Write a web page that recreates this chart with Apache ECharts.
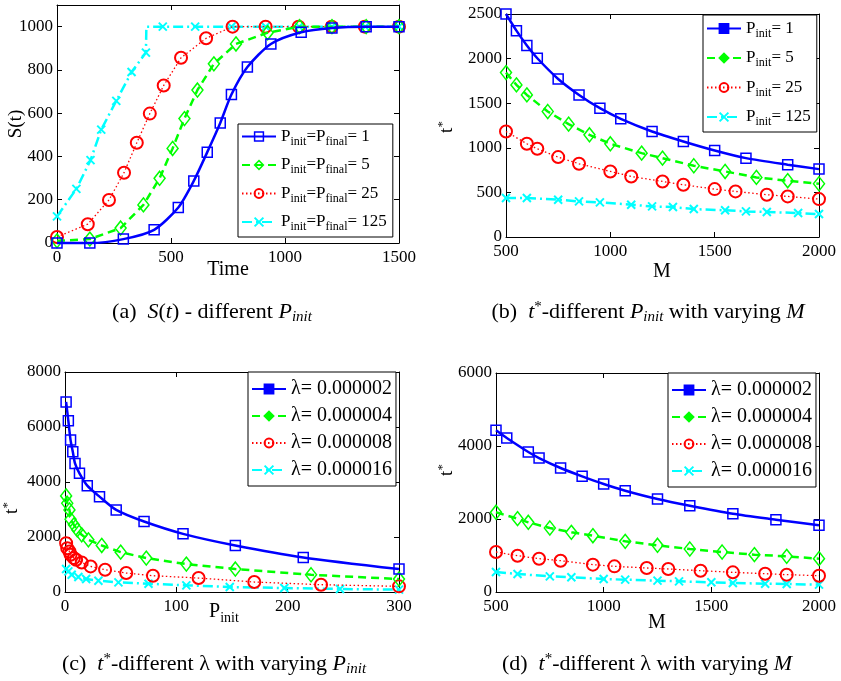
<!DOCTYPE html>
<html>
<head>
<meta charset="utf-8">
<script src="https://cdn.jsdelivr.net/npm/echarts@6/dist/echarts.min.js"></script>
<style>html,body{margin:0;padding:0;background:#fff}#c{width:841px;height:681px}</style>
</head>
<body>
<div id="c"></div>
<script>
// ---------- Panel (a): S(t) vs Time ----------
const aTime1 = [0,144,291,426,532,600,659,716,765,835,938,1071,1206,1356,1500];
const aS1    = [0,0,18,61,164,287,420,555,686,813,920,974,994,1000,1000];
const aTime5 = [0,144,279,379,450,507,559,616,688,785,924,1064,1206,1356,1500];
const aS5    = [10,18,69,176,299,437,575,707,828,920,972,1000,1000,1000,1000];
const aTime25 = [0,135,228,294,350,407,468,544,654,770,915,1060,1205,1350,1500];
const aS25    = [28,87,199,325,463,598,728,856,946,1000,1000,1000,1000,1000,1000];
const aTime125 = [0,85,147,194,260,327,390,392,464,606,765,915,1062,1206,1352,1500];
const aS125    = [123,250,383,524,657,790,880,1000,1000,1000,1000,1000,1000,1000,1000,1000];
const aNoMarkerIdx125 = [7];
const aLegend = ['P{sub|init}=P{sub|final}= 1','P{sub|init}=P{sub|final}= 5','P{sub|init}=P{sub|final}= 25','P{sub|init}=P{sub|final}= 125'];

// ---------- Panel (b): t* vs M, different P_init ----------
const bM1 = [500,550,600,650,750,850,950,1050,1200,1350,1500,1650,1850,2000];
const bT1 = [2500,2313,2146,2004,1772,1593,1444,1325,1183,1071,970,884,810,761];
const bM5 = [500,550,600,700,800,900,1000,1150,1250,1400,1550,1700,1850,2000];
const bT5 = [1843,1705,1593,1407,1265,1146,1045,940,884,799,735,668,631,597];
const bM25 = [500,600,650,750,850,1000,1100,1250,1350,1500,1600,1750,1850,2000];
const bT25 = [1183,1045,989,896,821,735,679,623,586,537,511,474,455,425];
const bM125 = [500,600,750,850,950,1100,1200,1300,1400,1550,1650,1750,1900,2000];
const bT125 = [437,437,418,399,388,362,343,336,313,299,287,280,269,257];
const bLegend = ['P{sub|init}= 1','P{sub|init}= 5','P{sub|init}= 25','P{sub|init}= 125'];

// ---------- Panel (c): t* vs P_init, different lambda ----------
const cP1 = [1,3,5,7,9,13,20,31,46,71,106,153,214,300];
const cT1 = [6912,6224,5523,5100,4677,4314,3867,3468,2985,2562,2115,1692,1257,834];
const cP2 = [1,2,4,5,8,11,15,21,33,50,73,109,153,221,300];
const cT2 = [3492,3227,2985,2646,2441,2260,2079,1897,1692,1450,1233,1015,834,628,471];
const cP3 = [1,2,4,5,8,10,15,23,36,55,79,120,170,230,300];
const cT3 = [1776,1595,1474,1353,1233,1172,1075,930,810,689,592,508,363,266,205];
const cP4 = [1,3,6,12,19,30,48,75,109,148,197,247,300];
const cT4 = [834,749,628,544,471,411,350,302,242,181,145,109,85];
const lamLegend = ['λ= 0.000002','λ= 0.000004','λ= 0.000008','λ= 0.000016'];

// ---------- Panel (d): t* vs M, different lambda ----------
const dM1 = [500,550,650,700,800,900,1000,1100,1250,1400,1600,1800,2000];
const dT1 = [4429,4219,3836,3671,3397,3169,2959,2776,2548,2365,2146,1982,1826];
const dM2 = [500,600,650,750,850,950,1100,1250,1400,1550,1700,1850,2000];
const dT2 = [2183,2009,1909,1753,1635,1543,1388,1279,1178,1096,1023,977,913];
const dM3 = [500,600,700,800,950,1050,1200,1300,1450,1600,1750,1850,2000];
const dT3 = [1096,995,913,858,749,703,658,630,584,539,502,475,447];
const dM4 = [500,600,750,850,1000,1100,1250,1350,1500,1600,1750,1850,2000];
const dT4 = [548,493,429,402,356,338,311,292,265,247,228,219,201];

// ---------- styles ----------
const FONT = '"Liberation Serif","DejaVu Serif",serif';
const CROSS = 'path://M0,0L10,10M10,0L0,10';
const ST = [
  {color:'#0000ff', line:'solid', lw:2.5, symbol:'rect', size:10, bw:1.5, smooth:0.25},
  {color:'#00ff00', line:[8,5], lw:2.5, symbol:'diamond', size:[11,14], bw:1.5, smooth:false},
  {color:'#ff0000', line:[1.5,2.5], lw:1.3, symbol:'circle', size:12, bw:2, smooth:false},
  {color:'#00ffff', line:[10,4,2,4], lw:2.5, symbol:CROSS, size:8, bw:2, smooth:false}
];

const grids = [
  {left:57, top:5, width:342, height:238},
  {left:506, top:14, width:313, height:223},
  {left:65, top:372, width:334, height:220},
  {left:496, top:373, width:323, height:219}
];
const xr = [[0,1500,500],[500,2000,500],[0,300,100],[500,2000,500]];
const yr = [[0,1100,200],[0,2500,500],[0,8000,2000],[0,6000,2000]];
const plain = v => String(v);

const xAxes = [], yAxes = [];
grids.forEach((g,i)=>{
  const base = {gridIndex:i, type:'value', min:xr[i][0], max:xr[i][1], interval:xr[i][2],
    axisLine:{show:true,onZero:false,lineStyle:{color:'#000',width:1}},
    axisTick:{show:true,inside:true,length:5,lineStyle:{color:'#000'}},
    splitLine:{show:false}};
  xAxes.push(Object.assign({}, base, {position:'bottom',
    axisLabel:{color:'#000',fontFamily:FONT,fontSize:17,margin:6,formatter:plain}}));
  xAxes.push(Object.assign({}, base, {position:'top', axisLabel:{show:false}}));
  const yb = {gridIndex:i, type:'value', min:yr[i][0], max:yr[i][1], interval:yr[i][2],
    axisLine:{show:true,onZero:false,lineStyle:{color:'#000',width:1}},
    axisTick:{show:true,inside:true,length:5,lineStyle:{color:'#000'}},
    splitLine:{show:false}};
  yAxes.push(Object.assign({}, yb, {position:'left',
    axisLabel:{color:'#000',fontFamily:FONT,fontSize:17,margin:4,showMaxLabel:i!==0,formatter:plain}}));
  yAxes.push(Object.assign({}, yb, {position:'right', axisLabel:{show:false}}));
});

const series = [];
function addSeries(panel, k, xs, ys, name, noMarker){
  const s = ST[k];
  const data = xs.map((x,j)=>{
    const item = {value:[x, ys[j]]};
    if (noMarker && noMarker.indexOf(j) >= 0) item.symbol = 'none';
    return item;
  });
  series.push({
    type:'line', name:name, xAxisIndex:panel*2, yAxisIndex:panel*2,
    data:data, smooth:s.smooth, symbol:s.symbol, symbolSize:s.size, showAllSymbol:true,
    clip:false,
    lineStyle:{color:s.color, width:s.lw, type:s.line},
    itemStyle:{color:'rgba(0,0,0,0)', borderColor:s.color, borderWidth:s.bw},
    emphasis:{disabled:true}, animation:false, z: 10-k
  });
}
addSeries(0,0,aTime1,aS1,'a0');
addSeries(0,1,aTime5,aS5,'a1');
addSeries(0,2,aTime25,aS25,'a2');
addSeries(0,3,aTime125,aS125,'a3',aNoMarkerIdx125);
addSeries(1,0,bM1,bT1,'b0');
addSeries(1,1,bM5,bT5,'b1');
addSeries(1,2,bM25,bT25,'b2');
addSeries(1,3,bM125,bT125,'b3');
addSeries(2,0,cP1,cT1,'c0');
addSeries(2,1,cP2,cT2,'c1');
addSeries(2,2,cP3,cT3,'c2');
addSeries(2,3,cP4,cT4,'c3');
addSeries(3,0,dM1,dT1,'d0');
addSeries(3,1,dM2,dT2,'d1');
addSeries(3,2,dM3,dT3,'d2');
addSeries(3,3,dM4,dT4,'d3');

const labelMap = {};
['a','b','c','d'].forEach((p,pi)=>{
  const arr = pi===0?aLegend:(pi===1?bLegend:lamLegend);
  arr.forEach((t,k)=>{ labelMap[p+k]=t; });
});

function makeLegend(p, pos, filled){
  return {
    left:pos.left, top:pos.top, orient:'vertical', itemGap:pos.gap,
    itemWidth:34, itemHeight:11,
    padding:pos.pad, borderColor:'#000', borderWidth:1, backgroundColor:'#fff',
    selectedMode:false,
    data:[0,1,2,3].map(k=>({name:p+k,
      itemStyle: filled && k<2 ? {color:ST[k].color, borderColor:ST[k].color}
                                : {color:'rgba(0,0,0,0)', borderColor:ST[k].color, borderWidth:ST[k].bw}})),
    formatter:(n)=>labelMap[n],
    textStyle:{color:'#000', fontFamily:FONT, fontSize:pos.fs,
      rich:{sub:{fontFamily:FONT, fontSize:12, padding:[10,0,0,0], color:'#000'}}}
  };
}

const legends = [
  makeLegend('a',{left:238,top:124,gap:9,pad:[4,6,4,3],fs:17},false),
  makeLegend('b',{left:703,top:15,gap:10,pad:[5,6,4,3],fs:17},true),
  makeLegend('c',{left:248,top:372,gap:7,pad:[7,4,6,3],fs:20},true),
  makeLegend('d',{left:668,top:373,gap:7,pad:[7,4,6,3],fs:20},true)
];

const richCap = {
  i:{fontFamily:FONT,fontSize:22,fontStyle:'italic',color:'#000'},
  isub:{fontFamily:FONT,fontSize:15,fontStyle:'italic',color:'#000',padding:[10,0,0,0]},
  sup:{fontFamily:FONT,fontSize:15,color:'#000',padding:[0,0,9,0]},
  sub:{fontFamily:FONT,fontSize:14,color:'#000',padding:[12,0,0,0]},
  asup:{fontFamily:FONT,fontSize:13,color:'#000',padding:[0,0,8,0]}
};
function txt(x,y,text){
  return {type:'text', x:x, y:y, silent:true,
    style:{text:text, fill:'#000', font:'22px '+FONT, textAlign:'center', textVerticalAlign:'middle', rich:richCap}};
}
function rtxt(x,y,text,size){
  return {type:'text', x:x, y:y, rotation:Math.PI/2, silent:true,
    style:{text:text, fill:'#000', font:size+'px '+FONT, textAlign:'center', textVerticalAlign:'middle', rich:richCap}};
}
function ntxt(x,y,text){
  return {type:'text', x:x, y:y, silent:true,
    style:{text:text, fill:'#000', font:'20px '+FONT, textAlign:'center', textVerticalAlign:'middle', rich:richCap}};
}
const graphics = [
  txt(212,312,'(a)  {i|S}({i|t}) - different {i|P}{isub|init}'),
  txt(648,312,'(b)  {i|t}{sup|*}-different {i|P}{isub|init} with varying {i|M}'),
  txt(214,664,'(c)  {i|t}{sup|*}-different λ with varying {i|P}{isub|init}'),
  txt(647,664,'(d)  {i|t}{sup|*}-different λ with varying {i|M}'),
  ntxt(228,270,'Time'),
  ntxt(662,272,'M'),
  ntxt(657,623,'M'),
  ntxt(224,612,'P{sub|init}'),
  rtxt(16,124,'S(t)',19),
  rtxt(447,127,'t{asup|*}',19),
  rtxt(12,508,'t{asup|*}',19),
  rtxt(447,470,'t{asup|*}',19)
];

const chart = echarts.init(document.getElementById('c'), null, {renderer:'canvas'});
chart.setOption({
  animation:false,
  backgroundColor:'#fff',
  grid:grids.map(g=>Object.assign({containLabel:false, show:false}, g)),
  xAxis:xAxes, yAxis:yAxes, series:series, legend:legends, graphic:graphics
});
</script>
</body>
</html>
